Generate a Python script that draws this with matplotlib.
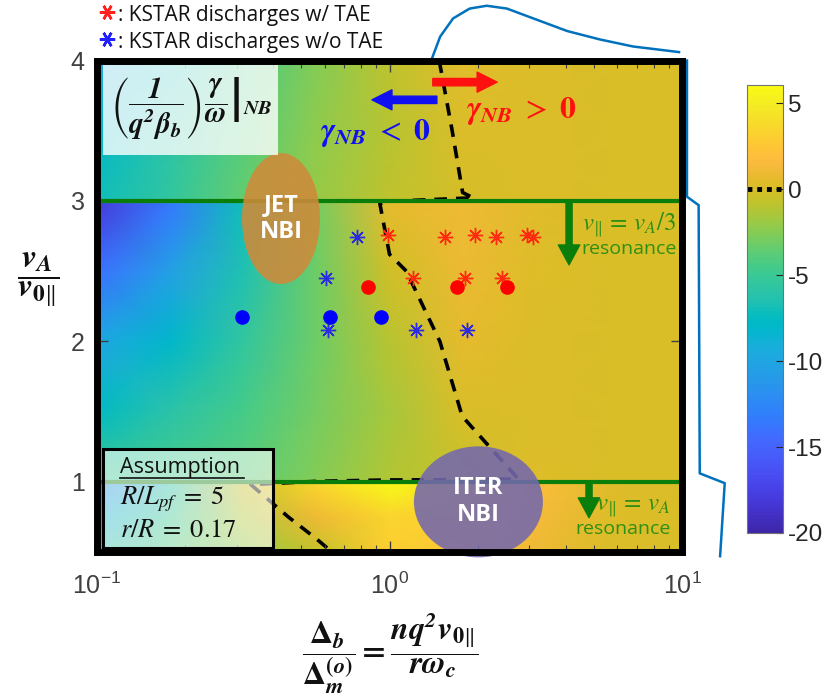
import numpy as np
import matplotlib
matplotlib.use('Agg')
import matplotlib.pyplot as plt
from matplotlib.colors import LinearSegmentedColormap
from matplotlib.patches import Ellipse, Rectangle
from matplotlib.lines import Line2D

# ---- values ----
# normalised growth rate on a coarse (log10 x, y) grid; the field jumps at y=1 and y=3
log_x_nodes = [-1.0, -0.75, -0.5, -0.25, 0.0, 0.25, 0.5, 0.75, 1.0]
y_nodes = [0.5, 0.75, 0.98, 1.02, 1.5, 2.0, 2.5, 2.98, 3.02, 3.5, 4.0]
growth = [
    [-6.0, -4.0, -2.0, -0.6, 3.0, 2.5, 1.0, 0.2, 0.1],
    [-9.0, -5.0, -1.2, 1.0, 3.5, 3.0, 1.3, 0.3, 0.1],
    [-12.0, -6.0, -0.3, 3.5, 5.8, 4.0, 1.8, 0.4, 0.1],
    [-5.0, -4.5, -3.8, -2.5, -1.2, -0.6, 0.25, 0.1, 0.1],
    [-7.5, -6.0, -4.5, -3.0, -1.5, 0.05, 0.15, 0.1, 0.1],
    [-10.0, -8.0, -5.5, -3.2, -1.0, 0.6, 0.2, 0.1, 0.1],
    [-14.0, -10.5, -6.5, -3.2, -0.2, 0.9, 0.3, 0.1, 0.1],
    [-18.0, -13.5, -7.0, -3.0, 0.6, 1.0, 0.4, 0.1, 0.1],
    [-7.0, -5.5, -3.5, -2.0, -0.8, -0.02, 0.15, 0.1, 0.1],
    [-8.0, -6.0, -4.0, -2.2, -1.0, 0.22, 0.15, 0.1, 0.1],
    [-10.0, -7.0, -4.5, -2.5, -0.8, 0.5, 0.15, 0.1, 0.1],
]

# KSTAR discharges
tae_x = [0.99, 1.55, 1.96, 2.31, 2.95, 3.10, 1.20, 1.81, 2.43]
tae_y = [2.76, 2.74, 2.76, 2.74, 2.76, 2.74, 2.45, 2.45, 2.45]
notae_x = [0.774, 0.607, 0.617, 1.23, 1.84]
notae_y = [2.74, 2.45, 2.08, 2.08, 2.08]
red_dot_x = [0.843, 1.70, 2.52]
red_dot_y = [2.39, 2.39, 2.39]
blue_dot_x = [0.313, 0.627, 0.935]
blue_dot_y = [2.17, 2.17, 2.17]

resonance_y = [1.0, 3.0]
resonance_arrow_x = [4.81, 4.11]
resonance_arrow_tip = [0.744, 2.545]

# distribution sketches drawn outside the frame
dist_top_x = [1.40, 1.49, 1.65, 1.88, 2.15, 2.52, 3.10, 4.05, 5.24, 6.80, 9.77]
dist_top_y = [4.02, 4.17, 4.30, 4.37, 4.39, 4.37, 4.30, 4.21, 4.15, 4.10, 4.06]
dist_side_x = [10.4, 10.4, 11.4, 11.5, 14.0, 13.5]
dist_side_y = [4.0, 3.03, 2.97, 1.06, 0.99, 0.47]

cbar_ticks = [-20, -15, -10, -5, 0, 5]

# parula colormap table
PARULA = [
    (0.2422, 0.1504, 0.6603), (0.2504, 0.1650, 0.7076), (0.2578, 0.1818, 0.7511),
    (0.2647, 0.1978, 0.7952), (0.2706, 0.2147, 0.8364), (0.2751, 0.2342, 0.8710),
    (0.2783, 0.2559, 0.8991), (0.2803, 0.2782, 0.9221), (0.2813, 0.3006, 0.9414),
    (0.2810, 0.3228, 0.9579), (0.2795, 0.3447, 0.9717), (0.2760, 0.3667, 0.9829),
    (0.2699, 0.3892, 0.9906), (0.2602, 0.4123, 0.9952), (0.2440, 0.4358, 0.9988),
    (0.2206, 0.4603, 0.9973), (0.1963, 0.4847, 0.9892), (0.1834, 0.5074, 0.9798),
    (0.1786, 0.5289, 0.9682), (0.1764, 0.5499, 0.9520), (0.1687, 0.5703, 0.9359),
    (0.1540, 0.5902, 0.9218), (0.1460, 0.6091, 0.9079), (0.1380, 0.6276, 0.8973),
    (0.1248, 0.6459, 0.8883), (0.1113, 0.6635, 0.8763), (0.0952, 0.6798, 0.8598),
    (0.0689, 0.6948, 0.8394), (0.0297, 0.7082, 0.8163), (0.0036, 0.7203, 0.7917),
    (0.0067, 0.7312, 0.7660), (0.0433, 0.7411, 0.7394), (0.0964, 0.7500, 0.7120),
    (0.1408, 0.7584, 0.6842), (0.1717, 0.7670, 0.6554), (0.1938, 0.7758, 0.6251),
    (0.2161, 0.7843, 0.5923), (0.2470, 0.7918, 0.5567), (0.2906, 0.7973, 0.5188),
    (0.3406, 0.8008, 0.4789), (0.3909, 0.8029, 0.4354), (0.4456, 0.8024, 0.3909),
    (0.5044, 0.7993, 0.3480), (0.5616, 0.7942, 0.3045), (0.6174, 0.7876, 0.2612),
    (0.6720, 0.7793, 0.2227), (0.7242, 0.7698, 0.1910), (0.7738, 0.7598, 0.1646),
    (0.8203, 0.7498, 0.1535), (0.8634, 0.7406, 0.1596), (0.9035, 0.7330, 0.1774),
    (0.9393, 0.7288, 0.2100), (0.9728, 0.7298, 0.2394), (0.9956, 0.7434, 0.2371),
    (0.9970, 0.7659, 0.2199), (0.9952, 0.7893, 0.2028), (0.9892, 0.8136, 0.1885),
    (0.9786, 0.8386, 0.1766), (0.9676, 0.8639, 0.1643), (0.9610, 0.8890, 0.1537),
    (0.9597, 0.9135, 0.1423), (0.9628, 0.9373, 0.1265), (0.9691, 0.9606, 0.1064),
    (0.9769, 0.9839, 0.0805),
]
parula = LinearSegmentedColormap.from_list('parula', PARULA, N=256)

plt.rcParams['font.family'] = 'Liberation Sans'
plt.rcParams['mathtext.fontset'] = 'stix'
plt.rcParams['axes.unicode_minus'] = False

fig = plt.figure(figsize=(8.32, 6.98), dpi=100)
ax = fig.add_axes([0.1166, 0.2092, 0.7031, 0.7041])
cax = fig.add_axes([0.8978, 0.2364, 0.0433, 0.6418])

X, Y = np.meshgrid(10.0 ** np.array(log_x_nodes), np.array(y_nodes))
Z = np.array(growth)
mesh = ax.pcolormesh(X, Y, Z, shading='gouraud', cmap=parula, vmin=-20, vmax=6.05, zorder=0)
ax.contour(X, Y, Z, levels=[0], colors='k', linewidths=2.6,
           linestyles=[(0, (3.5, 2.5))], zorder=1)

ax.set_xscale('log')
ax.set_xlim(0.1, 10)
ax.set_ylim(0.5, 4)
ax.set_yticks([1, 2, 3, 4])

green = '#0a7d0a'
for yr in resonance_y:
    ax.axhline(yr, color=green, lw=3, zorder=2)
for xa, ya, yt in zip(resonance_arrow_x, resonance_y, resonance_arrow_tip):
    ax.annotate('', xy=(xa, yt), xytext=(xa, ya),
                arrowprops=dict(arrowstyle='simple,head_length=0.65,head_width=0.7,tail_width=0.2',
                                color=green, mutation_scale=22, shrinkA=0, shrinkB=0), zorder=3)

tgreen = '#2f8f14'
ax.text(0.991, 0.667, r'$v_{\|}\,=\,v_A/3$', transform=ax.transAxes, ha='right', va='center',
        fontsize=18, color=tgreen, zorder=6)
ax.text(0.991, 0.616, 'resonance', transform=ax.transAxes, ha='right', va='center',
        fontsize=14, color=tgreen, family='Open Sans', zorder=6)
ax.text(0.981, 0.0916, r'$v_{\|}\,=\,v_A$', transform=ax.transAxes, ha='right', va='center',
        fontsize=18, color=tgreen, zorder=6)
ax.text(0.981, 0.0468, 'resonance', transform=ax.transAxes, ha='right', va='center',
        fontsize=14, color=tgreen, family='Open Sans', zorder=6)

# machine NBI ellipses
ax.add_patch(Ellipse((0.3145, 0.6785), 0.1333, 0.2665, transform=ax.transAxes,
                     facecolor='#cf8a3a', edgecolor='none', alpha=0.88, zorder=4))
ax.text(0.3145, 0.6785, 'JET\nNBI', transform=ax.transAxes, ha='center', va='center',
        fontsize=17, color='white', weight='bold', family='Open Sans', linespacing=1.15, zorder=5)
ax.add_patch(Ellipse((0.652, 0.102), 0.2205, 0.226, transform=ax.transAxes,
                     facecolor='#7468ad', edgecolor='none', alpha=0.88, zorder=4, clip_on=False))
ax.text(0.652, 0.102, 'ITER\nNBI', transform=ax.transAxes, ha='center', va='center',
        fontsize=17, color='white', weight='bold', family='Open Sans', linespacing=1.15, zorder=5)

# discharges
ax.plot(tae_x, tae_y, ls='none', marker=(8, 2, 0), ms=11, mew=1.0, color='#ff2a10', zorder=6)
ax.plot(notae_x, notae_y, ls='none', marker=(8, 2, 0), ms=11, mew=1.0, color='#2a2ae0', zorder=6)
ax.plot(red_dot_x, red_dot_y, ls='none', marker='o', ms=9.5, color='#ff0000', zorder=6)
ax.plot(blue_dot_x, blue_dot_y, ls='none', marker='o', ms=9.5, color='#0000ff', zorder=6)

# title box
ax.add_patch(Rectangle((0.0103, 0.808), 0.2985, 0.183, transform=ax.transAxes,
                       facecolor='white', alpha=0.8, edgecolor='none', zorder=7))
ax.text(0.161, 0.901, r'$\mathbfit{\left(\dfrac{1}{q^2\beta_b}\right)\left.\dfrac{\gamma}{\omega}\right|_{NB}}$',
        transform=ax.transAxes, ha='center', va='center', fontsize=21, color='#111111', zorder=8)

# growth sign labels and arrows
ax.annotate('', xy=(0.470, 0.920), xytext=(0.581, 0.920), xycoords='axes fraction',
            arrowprops=dict(arrowstyle='simple,head_length=0.6,head_width=0.6,tail_width=0.22',
                            color='#1010f0', mutation_scale=24, shrinkA=0, shrinkB=0), zorder=6)
ax.annotate('', xy=(0.684, 0.956), xytext=(0.574, 0.956), xycoords='axes fraction',
            arrowprops=dict(arrowstyle='simple,head_length=0.6,head_width=0.6,tail_width=0.22',
                            color='#ff1010', mutation_scale=24, shrinkA=0, shrinkB=0), zorder=6)
ax.text(0.475, 0.852, r'$\mathbfit{\gamma}_{\mathbfit{NB}}\ <\ \mathbf{0}$', transform=ax.transAxes,
        ha='center', va='center', fontsize=23, color='#1010f0', zorder=6)
ax.text(0.725, 0.897, r'$\mathbfit{\gamma}_{\mathbfit{NB}}\ >\ \mathbf{0}$', transform=ax.transAxes,
        ha='center', va='center', fontsize=23, color='#ff1010', zorder=6)

# assumption box
ax.add_patch(Rectangle((0.0103, 0.0081), 0.2906, 0.2015, transform=ax.transAxes,
                       facecolor='white', alpha=0.6, edgecolor='none', zorder=7))
ax.add_patch(Rectangle((0.0103, 0.0081), 0.2906, 0.2015, transform=ax.transAxes,
                       facecolor='none', edgecolor='k', lw=2.2, zorder=8))
ax.text(0.0393, 0.171, 'Assumption', transform=ax.transAxes, ha='left', va='center',
        fontsize=15.5, color='#111111', family='Open Sans', zorder=8)
ax.plot([0.0393, 0.251], [0.150, 0.150], transform=ax.transAxes, color='#111111', lw=1.2, zorder=8)
ax.text(0.0393, 0.108, r'$R/L_{pf}\;=\;5$', transform=ax.transAxes, ha='left', va='center',
        fontsize=19, color='#111111', zorder=8)
ax.text(0.0393, 0.045, r'$r/R\;=\;0.17$', transform=ax.transAxes, ha='left', va='center',
        fontsize=19, color='#111111', zorder=8)

# distribution sketches
ax.plot(dist_top_x, dist_top_y, color='#0072bd', lw=1.8, clip_on=False, zorder=9)
ax.plot(dist_side_x, dist_side_y, color='#0072bd', lw=1.8, clip_on=False, zorder=9)

for sp in ax.spines.values():
    sp.set_linewidth(5)
    sp.set_zorder(10)
ax.tick_params(which='both', direction='in', top=True, right=True, colors='0.25')
ax.tick_params(which='major', length=8, width=1, labelsize=18, pad=9)
ax.tick_params(axis='x', which='major', pad=15)
ax.tick_params(which='minor', length=5, width=0.8)

ax.set_zorder(1)

cb = fig.colorbar(mesh, cax=cax)
cb.set_ticks(cbar_ticks)
cb.ax.tick_params(direction='in', length=5, labelsize=17.5, colors='0.15')
cb.outline.set_edgecolor('0.45')
cb.ax.axhline(0, color='k', ls=(0, (1, 1)), lw=3.5)

# axis labels
fig.text(0.0457, 0.599, r'$\dfrac{\mathbfit{v_A}}{\mathbfit{v}_{\mathbf{0}\|}}$',
         ha='center', va='center', fontsize=24, color='#111111')
fig.text(0.469, 0.064,
         r'$\dfrac{\mathbf{\Delta}_{\mathbfit{b}}}{\mathbf{\Delta}_{\mathbfit{m}}^{\mathbf{(}\mathbfit{o}\mathbf{)}}}'
         r'\mathbf{=}\dfrac{\mathbfit{nq^2v}_{\mathbf{0}\|}}{\mathbfit{r\omega_c}}$',
         ha='center', va='center', fontsize=23, color='#111111')

# top legend: asterisk symbols as markers, then the text
for yy, col in [(12, '#ff2020'), (39, '#2020ff')]:
    fig.add_artist(Line2D([107 / 832], [1 - yy / 698], transform=fig.transFigure, ls='none',
                          marker=(6, 2, 90), ms=11, mew=1.8, color=col))
fig.text(118 / 832, 1 - 21 / 698, ': KSTAR discharges w/ TAE', color='#111111', fontsize=15, family='Open Sans')
fig.text(118 / 832, 1 - 48 / 698, ': KSTAR discharges w/o TAE', color='#111111', fontsize=15, family='Open Sans')

fig.savefig('out.png', dpi=100)
